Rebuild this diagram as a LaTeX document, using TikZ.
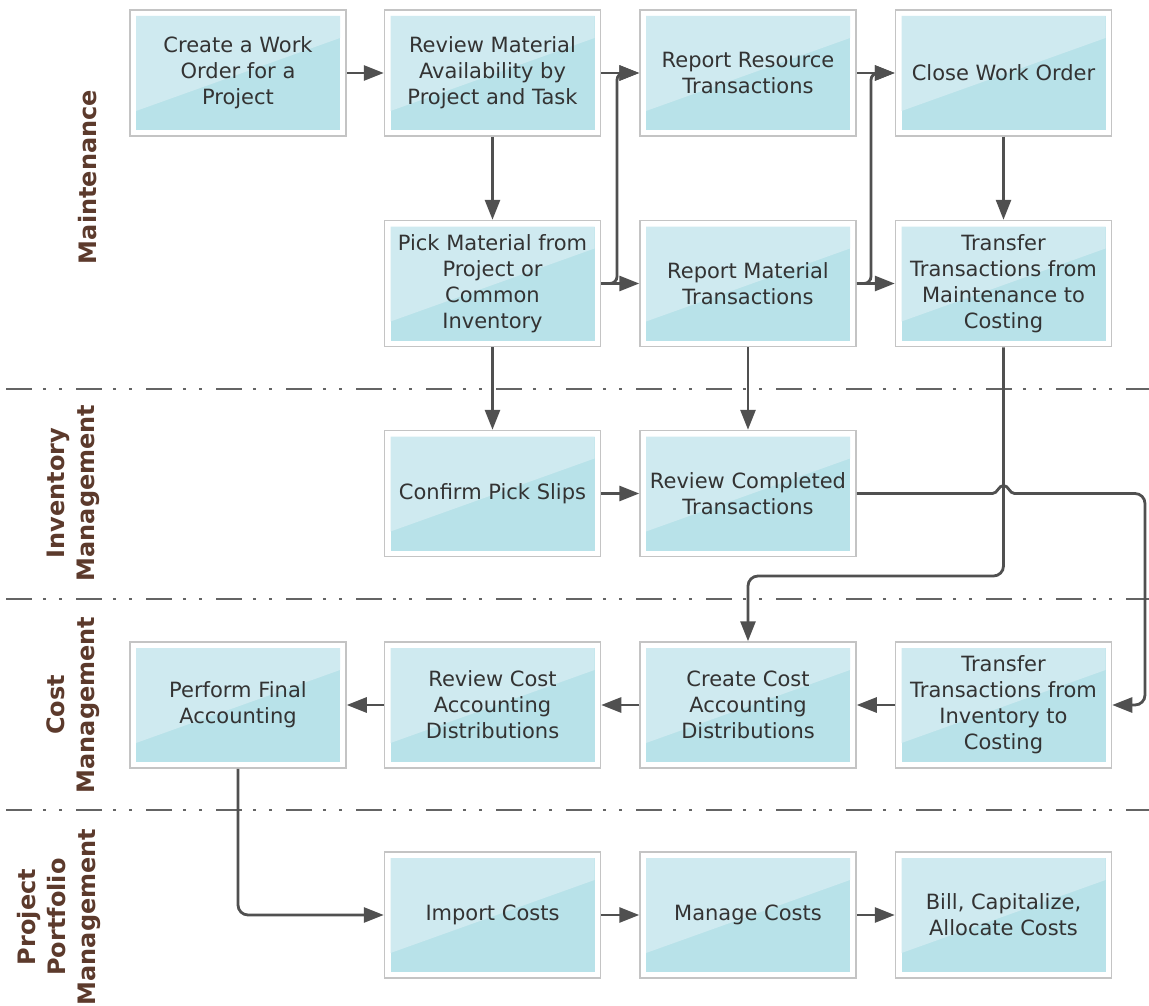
\documentclass[tikz,border=0pt]{standalone}
\usepackage{fontspec}
\setmainfont{DejaVu Sans}
\usetikzlibrary{arrows.meta,calc}
\definecolor{boxlight}{RGB}{207,234,240}
\definecolor{boxdark}{RGB}{184,226,233}
\definecolor{boxline}{RGB}{196,196,196}
\definecolor{flowcol}{RGB}{80,80,80}
\definecolor{lanetext}{RGB}{92,58,44}
\definecolor{divcol}{RGB}{100,100,100}
\definecolor{boxtext}{RGB}{51,51,51}
\begin{document}
\begin{tikzpicture}[x=1pt,y=-1pt,
  stepbox/.style={draw=boxline, line width=1.5pt, fill=white,
    minimum width=216pt, minimum height=126pt, inner sep=0pt,
    align=center, text=boxtext, font=\fontsize{21}{26}\selectfont,
    path picture={
      \coordinate (@sw) at (path picture bounding box.south west);
      \fill[boxdark] ($(@sw)+(6pt,6pt)$) rectangle ($(@sw)+(210pt,120pt)$);
      \fill[boxlight] ($(@sw)+(6pt,120pt)$) -- ($(@sw)+(210pt,120pt)$)
        -- ($(@sw)+(210pt,98pt)$) -- ($(@sw)+(6pt,25pt)$) -- cycle;
    }},
  flow/.style={draw=flowcol, line width=2.8pt,
    -{Triangle[length=20pt,width=15pt]}},
  lanelabel/.style={rotate=90, align=center, inner sep=0pt, text=lanetext,
    font=\fontsize{24}{30}\bfseries\selectfont},
  divider/.style={draw=divcol, line width=2.6pt,
    dash pattern=on 26pt off 11pt on 3pt off 13pt on 3pt off 14pt}
]
\useasboundingbox (0,0) rectangle (1149,1006);

% lane dividers
\draw[divider] (6,389) -- (1149,389);
\draw[divider] (6,599) -- (1149,599);
\draw[divider] (6,810) -- (1149,810);

% lane labels
\node[lanelabel] (lmaint) at (88,177) {Maintenance};
\node[lanelabel] (linv) at (73,493) {Inventory\\Management};
\node[lanelabel] (lcost) at (73,705) {Cost\\Management};
\node[lanelabel] (lproj) at (59,917) {Project\\Portfolio\\Management};

% boxes
\node[stepbox] (wo)  at (238,73)    {Create a Work\\Order for a\\Project};
\node[stepbox] (rm)  at (492.5,73)  {Review Material\\Availability by\\Project and Task};
\node[stepbox] (rr)  at (748,73)    {Report Resource\\Transactions};
\node[stepbox] (cw)  at (1003.5,73) {Close Work Order};

\node[stepbox] (pm)  at (492.5,283.5)  {Pick Material from\\Project or\\Common\\Inventory};
\node[stepbox] (rmt) at (748,283.5)    {Report Material\\Transactions};
\node[stepbox] (tm)  at (1003.5,283.5) {Transfer\\Transactions from\\Maintenance to\\Costing};

\node[stepbox] (cp)  at (492.5,493.5) {Confirm Pick Slips};
\node[stepbox] (rc)  at (748,493.5)   {Review Completed\\Transactions};

\node[stepbox] (pf)  at (238,705)    {Perform Final\\Accounting};
\node[stepbox] (rca) at (492.5,705)  {Review Cost\\Accounting\\Distributions};
\node[stepbox] (cca) at (748,705)    {Create Cost\\Accounting\\Distributions};
\node[stepbox] (ti)  at (1003.5,705) {Transfer\\Transactions from\\Inventory to\\Costing};

\node[stepbox] (ic)  at (492.5,915)  {Import Costs};
\node[stepbox] (mc)  at (748,915)    {Manage Costs};
\node[stepbox] (bc)  at (1003.5,915) {Bill, Capitalize,\\Allocate Costs};

% routing coordinates
\coordinate (xa) at (617,0);
\coordinate (xb) at (871,0);
\coordinate (xr) at (1145,0);
\coordinate (yc) at (0,576);
\coordinate (jmp) at (tm.south |- rc.east);

% connectors
\draw[flow] (wo.east) -- (rm.west);
\draw[flow] (rm.south) -- (pm.north);
\draw[flow] (rm.east) -- (rr.west);
\draw[flow] (pm.east) -- (rmt.west);
\draw[flow, rounded corners=7pt] (pm.east) -- (xa |- pm.east) -- (xa |- rr.west) -- (rr.west);
\draw[flow] (rr.east) -- (cw.west);
\draw[flow] (rmt.east) -- (tm.west);
\draw[flow, rounded corners=7pt] (rmt.east) -- (xb |- rmt.east) -- (xb |- cw.west) -- (cw.west);
\draw[flow] (cw.south) -- (tm.north);
\draw[flow] (pm.south) -- (cp.north);
\draw[flow] (rmt.south) -- (rc.north);
\draw[flow] (cp.east) -- (rc.west);
\draw[flow, rounded corners=10pt] (tm.south) -- (tm.south |- yc) -- (cca.north |- yc) -- (cca.north);
\draw[flow] (rc.east) -- ([xshift=-11pt]jmp)
  .. controls ([xshift=-6pt]jmp) and ([xshift=-5pt,yshift=8pt]jmp) .. ([yshift=8pt]jmp)
  .. controls ([xshift=5pt,yshift=8pt]jmp) and ([xshift=6pt]jmp) .. ([xshift=11pt]jmp)
  [rounded corners=10pt] -- (xr |- rc.east) -- (xr |- ti.east) -- (ti.east);
\draw[flow] (ti.west) -- (cca.east);
\draw[flow] (cca.west) -- (rca.east);
\draw[flow] (rca.west) -- (pf.east);
\draw[flow, rounded corners=10pt] (pf.south) -- (pf.south |- ic.west) -- (ic.west);
\draw[flow] (ic.east) -- (mc.west);
\draw[flow] (mc.east) -- (bc.west);
\end{tikzpicture}
\end{document}
